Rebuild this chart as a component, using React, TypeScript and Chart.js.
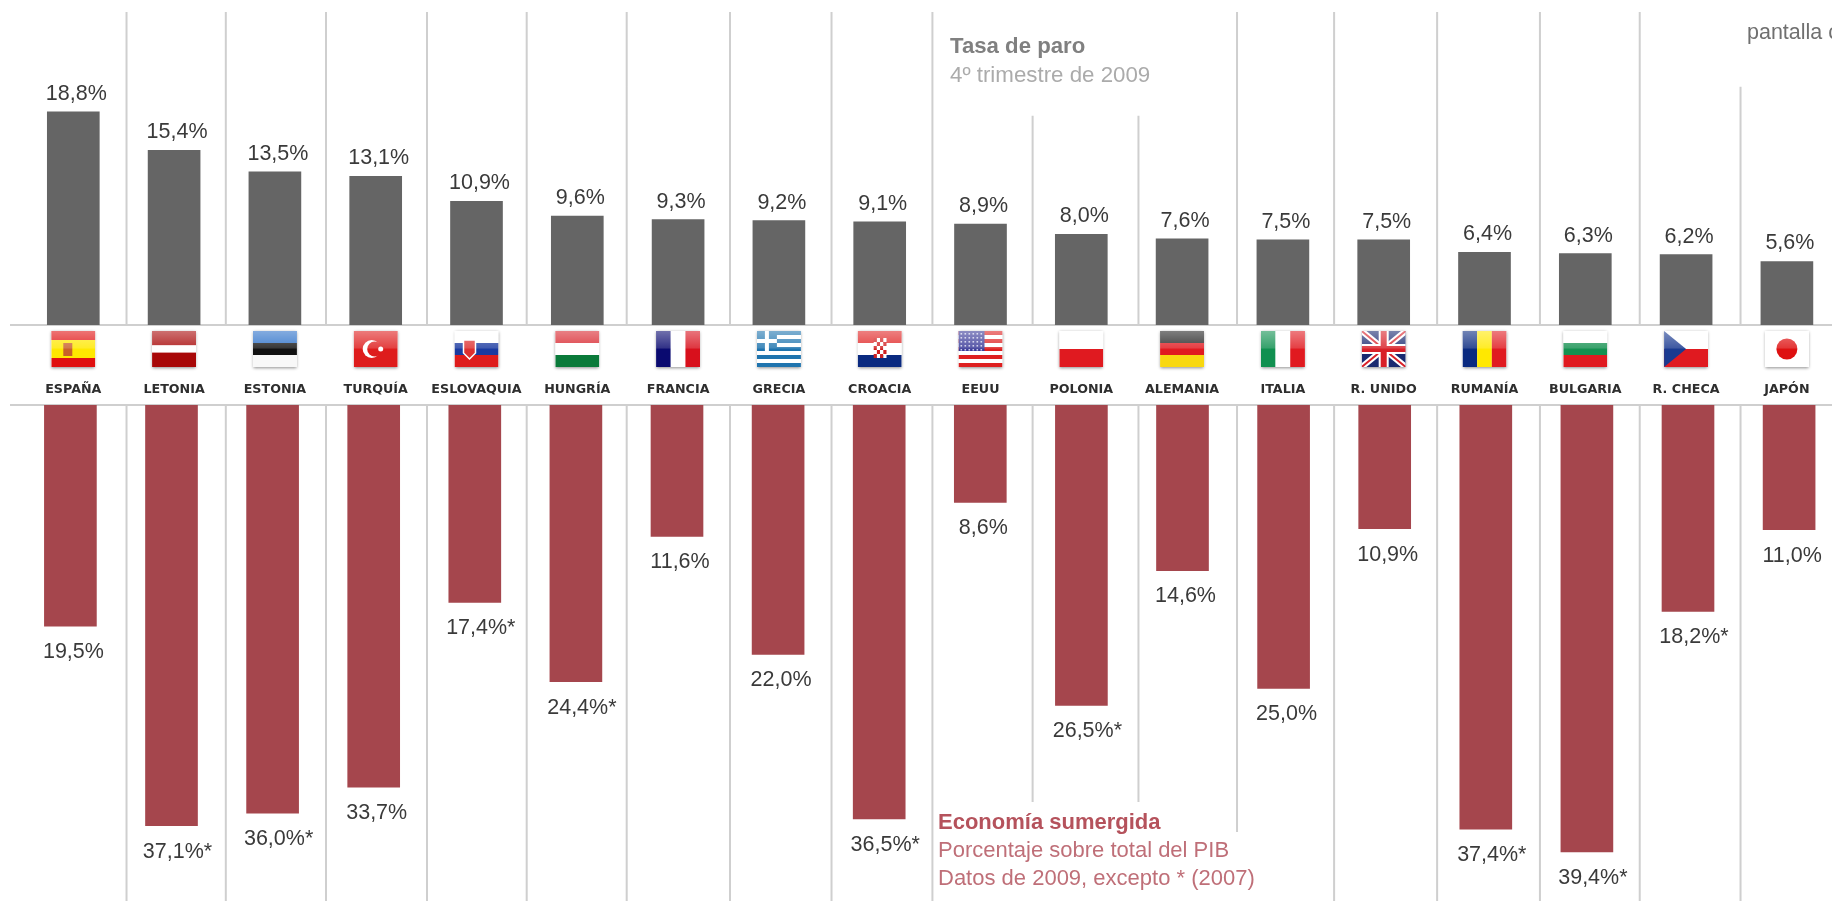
import React, { useEffect, useRef } from "react";
import { Chart, registerables } from "chart.js";

Chart.register(...registerables);

const countries = ["ESPAÑA","LETONIA","ESTONIA","TURQUÍA","ESLOVAQUIA","HUNGRÍA","FRANCIA","GRECIA","CROACIA","EEUU","POLONIA","ALEMANIA","ITALIA","R. UNIDO","RUMANÍA","BULGARIA","R. CHECA","JAPÓN"];
const unemployment = [18.8,15.4,13.5,13.1,10.9,9.6,9.3,9.2,9.1,8.9,8.0,7.6,7.5,7.5,6.4,6.3,6.2,5.6];
const shadowEconomy = [19.5,37.1,36.0,33.7,17.4,24.4,11.6,22.0,36.5,8.6,26.5,14.6,25.0,10.9,37.4,39.4,18.2,11.0];
const from2007 = ["LETONIA","ESTONIA","ESLOVAQUIA","HUNGRÍA","CROACIA","POLONIA","RUMANÍA","BULGARIA","R. CHECA"];

// Separators, in slots of the category axis, and how far each one runs, in axis units
const separatorSlots = [0.528,1.513,2.507,3.509,4.498,5.49,6.515,7.522,8.523,9.517,10.567,11.545,12.508,13.53,14.55,15.54,16.54];
const upperReach = [27.6,27.6,27.6,27.6,27.6,27.6,27.6,27.6,27.6,18.46,18.46,27.6,27.6,27.6,27.6,27.6,21.0];
const lowerReach = [43.8,43.8,43.8,43.8,43.8,43.8,43.8,43.8,43.8,35.0,35.0,37.65,43.8,43.8,43.8,43.8,43.8];

const FONT = '"Liberation Sans", Arial, sans-serif';
const CANVAS_W = 1840;
const PX_PER_UNIT = 11.34;
const UP_LEFT = 22.9, UP_SLOT = 100.8, UP_ZERO = 325, BAND = 80;
const LOW_LEFT = 19.85, LOW_SLOT = 101.1, LOW_TOP = 400, LOW_ZERO = 405, PAGE_H = 901;
const GRID = "#cfcfcf";

const fmt = (v: number) => v.toFixed(1).replace(".", ",") + "%";

function stripes(c: any, x: number, y: number, w: number, h: number, colors: string[], weights?: number[], vertical = false) {
  const ws = weights || colors.map(() => 1);
  const total = ws.reduce((a, b) => a + b, 0);
  let pos = 0;
  colors.forEach((col, i) => {
    c.fillStyle = col;
    if (vertical) c.fillRect(x + (pos / total) * w, y, (ws[i] / total) * w, h);
    else c.fillRect(x, y + (pos / total) * h, w, (ws[i] / total) * h);
    pos += ws[i];
  });
}

const flagPainters: Record<string, (c: any, x: number, y: number, w: number, h: number) => void> = {
  "ESPAÑA": (c, x, y, w, h) => {
    stripes(c, x, y, w, h, ["#e01010", "#ffe800", "#e01010"], [1, 2, 1]);
    c.fillStyle = "#c8602a";
    c.fillRect(x + 12, y + 12, 9, 13);
  },
  "LETONIA": (c, x, y, w, h) => stripes(c, x, y, w, h, ["#a80808", "#ffffff", "#a80808"], [2, 1, 2]),
  "ESTONIA": (c, x, y, w, h) => stripes(c, x, y, w, h, ["#2a6fc8", "#111111", "#f8f8f8"]),
  "TURQUÍA": (c, x, y, w, h) => {
    c.fillStyle = "#de1c1c";
    c.fillRect(x, y, w, h);
    c.fillStyle = "#fff";
    c.beginPath(); c.arc(x + 18, y + 18, 9, 0, 7); c.fill();
    c.fillStyle = "#de1c1c";
    c.beginPath(); c.arc(x + 21, y + 18, 7.5, 0, 7); c.fill();
    c.fillStyle = "#fff";
    c.beginPath(); c.arc(x + 27, y + 18, 2.5, 0, 7); c.fill();
  },
  "ESLOVAQUIA": (c, x, y, w, h) => {
    stripes(c, x, y, w, h, ["#ffffff", "#1a3aa0", "#de1c1c"]);
    c.fillStyle = "#de3030";
    c.beginPath();
    c.moveTo(x + 9, y + 9); c.lineTo(x + 21, y + 9); c.lineTo(x + 21, y + 22); c.lineTo(x + 15, y + 28); c.lineTo(x + 9, y + 22);
    c.closePath(); c.fill();
    c.strokeStyle = "#fff"; c.lineWidth = 1.5; c.stroke();
  },
  "HUNGRÍA": (c, x, y, w, h) => stripes(c, x, y, w, h, ["#d8242c", "#ffffff", "#0a7a3a"]),
  "FRANCIA": (c, x, y, w, h) => stripes(c, x, y, w, h, ["#0a0a70", "#ffffff", "#d8101c"], undefined, true),
  "GRECIA": (c, x, y, w, h) => {
    stripes(c, x, y, w, h, ["#1f74ae", "#fff", "#1f74ae", "#fff", "#1f74ae", "#fff", "#1f74ae", "#fff", "#1f74ae"]);
    c.fillStyle = "#1f74ae"; c.fillRect(x, y, 20, 20);
    c.fillStyle = "#fff"; c.fillRect(x + 8, y, 4, 20); c.fillRect(x, y + 8, 20, 4);
  },
  "CROACIA": (c, x, y, w, h) => {
    stripes(c, x, y, w, h, ["#e02424", "#ffffff", "#0a2a80"]);
    for (let r = 0; r < 5; r++) for (let k = 0; k < 4; k++) {
      c.fillStyle = (r + k) % 2 ? "#fff" : "#d02020";
      c.fillRect(x + 16 + k * 3.2, y + 7 + r * 4, 3.2, 4);
    }
  },
  "EEUU": (c, x, y, w, h) => {
    stripes(c, x, y, w, h, ["#de2020", "#fff", "#de2020", "#fff", "#de2020", "#fff", "#de2020", "#fff", "#de2020"]);
    c.fillStyle = "#3a3a98"; c.fillRect(x, y, 26, 20);
    c.fillStyle = "#c8c8e8";
    for (let r = 0; r < 5; r++) for (let k = 0; k < 6; k++) c.fillRect(x + 2 + k * 4, y + 2 + r * 4, 1.6, 1.6);
  },
  "POLONIA": (c, x, y, w, h) => stripes(c, x, y, w, h, ["#ffffff", "#e01a20"]),
  "ALEMANIA": (c, x, y, w, h) => stripes(c, x, y, w, h, ["#222222", "#e01a20", "#f8d810"]),
  "ITALIA": (c, x, y, w, h) => stripes(c, x, y, w, h, ["#109050", "#ffffff", "#e01a20"], undefined, true),
  "R. UNIDO": (c, x, y, w, h) => {
    c.fillStyle = "#1a2a70"; c.fillRect(x, y, w, h);
    c.save();
    c.beginPath(); c.rect(x, y, w, h); c.clip();
    c.strokeStyle = "#fff"; c.lineWidth = 6;
    c.beginPath(); c.moveTo(x, y); c.lineTo(x + w, y + h); c.moveTo(x + w, y); c.lineTo(x, y + h); c.stroke();
    c.strokeStyle = "#d82028"; c.lineWidth = 2;
    c.beginPath(); c.moveTo(x, y); c.lineTo(x + w, y + h); c.moveTo(x + w, y); c.lineTo(x, y + h); c.stroke();
    c.restore();
    c.fillStyle = "#fff"; c.fillRect(x + 17, y, 10, h); c.fillRect(x, y + 13, w, 10);
    c.fillStyle = "#d82028"; c.fillRect(x + 19, y, 6, h); c.fillRect(x, y + 15, w, 6);
  },
  "RUMANÍA": (c, x, y, w, h) => stripes(c, x, y, w, h, ["#0a2a80", "#ffe800", "#e01a20"], undefined, true),
  "BULGARIA": (c, x, y, w, h) => stripes(c, x, y, w, h, ["#ffffff", "#149050", "#e01a20"]),
  "R. CHECA": (c, x, y, w, h) => {
    stripes(c, x, y, w, h, ["#ffffff", "#e01a20"]);
    c.fillStyle = "#1a3a90";
    c.beginPath(); c.moveTo(x, y); c.lineTo(x + 22, y + h / 2); c.lineTo(x, y + h); c.closePath(); c.fill();
  },
  "JAPÓN": (c, x, y, w, h) => {
    c.fillStyle = "#fff"; c.fillRect(x, y, w, h);
    c.fillStyle = "#de1010";
    c.beginPath(); c.arc(x + w / 2, y + h / 2, 10.5, 0, 7); c.fill();
  },
};

function drawFlag(c: any, name: string, cx: number) {
  const w = 44, h = 36, x = cx - w / 2, y = 331;
  c.save();
  c.shadowColor = "rgba(0,0,0,0.45)";
  c.shadowBlur = 3;
  c.shadowOffsetY = 1;
  c.fillStyle = "#fff";
  c.fillRect(x, y, w, h);
  c.restore();
  c.save();
  c.beginPath(); c.rect(x, y, w, h); c.clip();
  flagPainters[name](c, x, y, w, h);
  const g = c.createLinearGradient(0, y, 0, y + h / 2);
  g.addColorStop(0, "rgba(255,255,255,0.42)");
  g.addColorStop(0.95, "rgba(255,255,255,0.16)");
  g.addColorStop(1, "rgba(255,255,255,0)");
  c.fillStyle = g;
  c.fillRect(x, y, w, h / 2);
  c.restore();
}

function note(c: any, text: string, x: number, y: number, font: string, color: string) {
  c.font = font;
  c.fillStyle = color;
  c.textAlign = "left";
  c.textBaseline = "middle";
  c.fillText(text, x, y);
}

function drawRules(chart: any, reach: number[]) {
  const { ctx: c, scales } = chart;
  const xs = scales.xs, y = scales.y;
  c.save();
  c.strokeStyle = GRID;
  c.lineWidth = 2;
  c.beginPath();
  separatorSlots.forEach((s, i) => {
    const px = xs.getPixelForValue(s);
    c.moveTo(px, y.getPixelForValue(reach[i]));
    c.lineTo(px, y.getPixelForValue(0));
  });
  c.moveTo(xs.getPixelForValue(-0.628), y.getPixelForValue(0));
  c.lineTo(xs.getPixelForValue(18.2), y.getPixelForValue(0));
  c.stroke();
  c.restore();
}

const upperPlugin = {
  id: "upperMarks",
  beforeDatasetsDraw(chart: any) {
    drawRules(chart, upperReach);
  },
  afterDraw(chart: any) {
    const c = chart.ctx;
    const bars = chart.getDatasetMeta(0).data;
    c.save();
    countries.forEach((name, i) => drawFlag(c, name, bars[i].x));
    c.font = `21.5px ${FONT}`;
    c.fillStyle = "#3a3a3a";
    c.textAlign = "center";
    c.textBaseline = "alphabetic";
    unemployment.forEach((v, i) => c.fillText(fmt(v), bars[i].x + 3, bars[i].y - 12));
    note(c, "Tasa de paro", 950, 47, `bold 22.2px ${FONT}`, "#808080");
    note(c, "4º trimestre de 2009", 950, 76, `22.3px ${FONT}`, "#ababab");
    note(c, "pantalla c", 1747, 33, `21.5px ${FONT}`, "#707070");
    c.restore();
  },
};

const lowerPlugin = {
  id: "lowerMarks",
  beforeDatasetsDraw(chart: any) {
    drawRules(chart, lowerReach);
  },
  afterDraw(chart: any) {
    const c = chart.ctx;
    const bars = chart.getDatasetMeta(0).data;
    c.save();
    c.font = `21.5px ${FONT}`;
    c.fillStyle = "#3a3a3a";
    c.textAlign = "center";
    c.textBaseline = "middle";
    shadowEconomy.forEach((v, i) => {
      const star = from2007.includes(countries[i]);
      c.fillText(fmt(v) + (star ? "*" : ""), bars[i].x + (star ? 6 : 3), bars[i].y + 26);
    });
    const t = (p: number) => p - LOW_TOP;
    note(c, "Economía sumergida", 938, t(823), `bold 22px ${FONT}`, "#b5525c");
    note(c, "Porcentaje sobre total del PIB", 938, t(851), `22px ${FONT}`, "#bf6f78");
    note(c, "Datos de 2009, excepto * (2007)", 938, t(879), `22px ${FONT}`, "#bf6f78");
    c.restore();
  },
};

export default function App() {
  const upRef = useRef<HTMLCanvasElement>(null);
  const lowRef = useRef<HTMLCanvasElement>(null);

  useEffect(() => {
    document.body.style.margin = "0";
    const upper = new Chart(upRef.current as any, {
      type: "bar",
      data: {
        labels: countries,
        datasets: [{ label: "Tasa de paro", data: unemployment, backgroundColor: "#656565", barThickness: 52 } as any],
      },
      options: {
        animation: false,
        responsive: false,
        events: [],
        layout: { padding: { left: UP_LEFT, right: CANVAS_W - UP_LEFT - UP_SLOT * countries.length, top: 0, bottom: 0 } },
        plugins: { legend: { display: false }, tooltip: { enabled: false }, title: { display: false } },
        scales: {
          x: {
            type: "category",
            offset: true,
            grid: { display: false },
            border: { display: false },
            afterFit: (s: any) => { s.height = BAND; s.paddingLeft = 0; s.paddingRight = 0; },
            ticks: { autoSkip: false, maxRotation: 0, minRotation: 0, padding: 49, color: "#2e2e2e", font: { family: '"DejaVu Sans"', size: 12.7, weight: "bold" } },
          },
          xs: { type: "linear", display: false, offset: false, min: -0.5, max: 17.5 },
          y: { display: false, min: 0, max: UP_ZERO / PX_PER_UNIT },
        },
      } as any,
      plugins: [upperPlugin],
    });
    const lower = new Chart(lowRef.current as any, {
      type: "bar",
      data: {
        labels: countries,
        datasets: [{ label: "Economía sumergida", data: shadowEconomy, backgroundColor: "#a5464d", barThickness: 52 } as any],
      },
      options: {
        animation: false,
        responsive: false,
        events: [],
        layout: { padding: { left: LOW_LEFT, right: CANVAS_W - LOW_LEFT - LOW_SLOT * countries.length, top: LOW_ZERO - LOW_TOP, bottom: 0 } },
        plugins: { legend: { display: false }, tooltip: { enabled: false }, title: { display: false } },
        scales: {
          x: { type: "category", display: false, offset: true },
          xs: {
            type: "linear",
            display: false,
            offset: false,
            min: (LOW_LEFT - UP_LEFT) / UP_SLOT - 0.5,
            max: (LOW_LEFT + LOW_SLOT * countries.length - UP_LEFT) / UP_SLOT - 0.5,
          },
          y: { display: false, reverse: true, min: 0, max: (PAGE_H - LOW_ZERO) / PX_PER_UNIT },
        },
      } as any,
      plugins: [lowerPlugin],
    });
    return () => { upper.destroy(); lower.destroy(); };
  }, []);

  return (
    <div style={{ position: "fixed", inset: 0, overflow: "hidden", background: "#fff", filter: "blur(0.6px)" }}>
      <canvas ref={upRef} width={CANVAS_W} height={UP_ZERO + BAND} style={{ position: "absolute", left: 0, top: 0, display: "block" }} />
      <canvas ref={lowRef} width={CANVAS_W} height={PAGE_H - LOW_TOP} style={{ position: "absolute", left: 0, top: LOW_TOP, display: "block" }} />
    </div>
  );
}
